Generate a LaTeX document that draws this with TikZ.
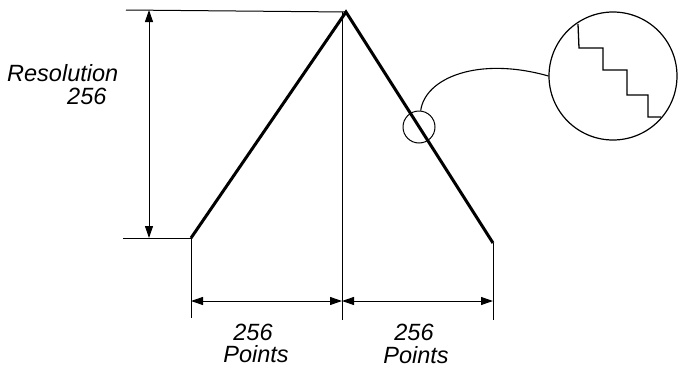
\documentclass[tikz,border=0pt]{standalone}
\usepackage{fontspec}
\setmainfont{Liberation Sans}
\usetikzlibrary{arrows.meta}
\begin{document}
\begin{tikzpicture}[x=1pt,y=-1pt,
  thin line/.style={line width=1pt},
  wave/.style={line width=3pt,line join=miter},
  dim/.style={line width=1pt,{Triangle[length=12pt,width=8pt]}-{Triangle[length=12pt,width=8pt]}},
  lbl/.style={font=\fontsize{23.5}{23.5}\selectfont\itshape,inner sep=0pt,align=center}]
\useasboundingbox (0,0) rectangle (686,370);
% key points
\coordinate (peak) at (346,12);
\coordinate (lo) at (191,238);
\coordinate (ro) at (493,243);
\coordinate (topl) at (126,10);
\coordinate (lol) at (123,238);
\coordinate (va) at (149,10);
\coordinate (vb) at (149,238);
\coordinate (c1) at (342,12);
\coordinate (lod) at (191,318);
\coordinate (cd) at (342,320);
\coordinate (rod) at (493,320);
\coordinate (ha) at (191,301);
\coordinate (hb) at (342,301);
\coordinate (hc) at (493,301);
% triangle
\draw[wave] (lo) -- (peak) -- (ro);
% reference lines
\draw[thin line] (topl) -- (peak);
\draw[thin line] (lol) -- (lo);
\draw[thin line] (lo) -- (lod);
\draw[thin line] (c1) -- (cd);
\draw[thin line] (ro) -- (rod);
% dimension arrows
\draw[dim] (va) -- (vb);
\draw[dim] (ha) -- (hb);
\draw[dim] (hb) -- (hc);
% magnifier
\node[draw,thin line,circle,minimum size=32pt,inner sep=0pt] (small) at (419,127) {};
\node[draw,line width=1.2pt,circle,minimum size=128pt,inner sep=0pt] (big) at (613,76) {};
\draw[line width=1.1pt] (small.84) .. controls (425,78) and (478,56) .. (big.west);
\draw[line width=1.3pt] (578,24) -- (579,48) -- (603,48) -- (603,70) -- (627,70) -- (627,95) -- (648,95) -- (648,117) -- (661,117);
% labels
\node[lbl,anchor=base west] (res) at (7,81) {Resolution};
\node[lbl,anchor=base west] (res2) at (67,104) {256};
\node[lbl,anchor=base] (p1) at (253,340) {256};
\node[lbl,anchor=base] (p1b) at (256,362) {Points};
\node[lbl,anchor=base] (p2) at (414,340) {256};
\node[lbl,anchor=base] (p2b) at (416,363) {Points};
\end{tikzpicture}
\end{document}
